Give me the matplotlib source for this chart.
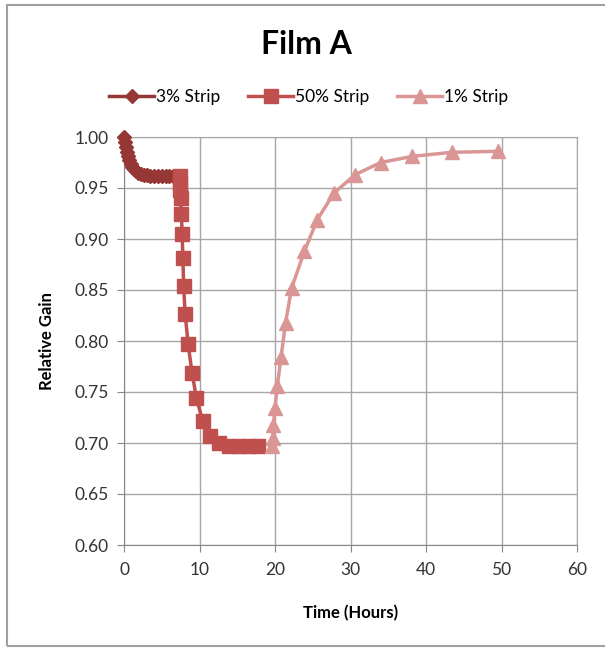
import matplotlib.pyplot as plt
from matplotlib.patches import Rectangle

plt.rcParams['font.family'] = ['Lato', 'DejaVu Sans']

# 3% strip
x_3 = [0, 0.1, 0.2, 0.35, 0.5, 0.7, 0.9, 1.1, 1.3, 1.6, 1.9, 2.2, 2.6, 3.0, 3.5, 4.0, 4.5, 5.0, 5.5, 6.0, 6.5, 7.0, 7.3]
y_3 = [1.000, 0.995, 0.990, 0.985, 0.981, 0.977, 0.974, 0.971, 0.969, 0.967, 0.965, 0.964, 0.963, 0.963, 0.962, 0.962, 0.962, 0.962, 0.962, 0.962, 0.962, 0.962, 0.962]

# 50% strip
x_50 = [7.4, 7.4, 7.45, 7.5, 7.6, 7.7, 7.8, 7.9, 8.1, 8.5, 9.0, 9.6, 10.4, 11.4, 12.6, 13.9, 15.2, 16.5, 17.8]
y_50 = [0.962, 0.955, 0.948, 0.940, 0.925, 0.905, 0.881, 0.854, 0.826, 0.797, 0.769, 0.744, 0.722, 0.707, 0.700, 0.697, 0.697, 0.697, 0.697]

# 1% strip
x_1 = [19.6, 19.7, 19.8, 20.0, 20.3, 20.8, 21.4, 22.2, 23.9, 25.6, 27.8, 30.6, 34.0, 38.2, 43.4, 49.6]
y_1 = [0.697, 0.705, 0.718, 0.734, 0.756, 0.784, 0.818, 0.852, 0.888, 0.919, 0.945, 0.963, 0.975, 0.981, 0.985, 0.986]

fig = plt.figure(figsize=(6.05, 6.48), dpi=100)
ax = fig.add_axes([124/605, 1-545/648, (577-124)/605, (545-137)/648])

ax.plot(x_3, y_3, color='#953735', marker='D', markersize=7, linewidth=2.5, label='3% Strip', zorder=3, clip_on=False)
ax.plot(x_50, y_50, color='#C0504D', marker='s', markersize=10.5, linewidth=2.5, label='50% Strip', zorder=4)
ax.plot(x_1, y_1, color='#D99694', marker='^', markersize=10, linewidth=2.5, label='1% Strip', zorder=5)

ax.set_xlim(0, 60)
ax.set_ylim(0.6, 1.0)
ax.set_xticks(range(0, 61, 10))
ax.set_yticks([0.6 + 0.05*i for i in range(9)])
ax.set_yticklabels(['%.2f' % (0.6 + 0.05*i) for i in range(9)])
ax.grid(True, color='#A6A6A6', linewidth=1)
ax.set_axisbelow(True)
for s in ax.spines.values():
    s.set_color('#A6A6A6')
ax.spines['left'].set_color('#868686')
ax.spines['bottom'].set_color('#868686')
ax.tick_params(colors='#868686', labelcolor='#333333', labelsize=12.5, length=5)
ax.tick_params(axis='x', pad=7)
ax.tick_params(axis='y', pad=6)

ax.set_xlabel('Time (Hours)', fontsize=12, fontweight='bold', labelpad=20)
ax.set_ylabel('Relative Gain', fontsize=12, fontweight='bold', labelpad=14)

fig.text(0.507, 1-45/648, 'Film A', ha='center', va='center', fontsize=23, fontweight='bold')
fig.legend(loc='center', bbox_to_anchor=(0.51, 1-97/648), ncol=3, frameon=False,
           fontsize=12.5, handlelength=2.6, columnspacing=1.6, handletextpad=0.1)

fig.patches.append(Rectangle((7/605, 2/648), 1, 1-7/648, transform=fig.transFigure,
                             fill=False, edgecolor='#A0A0A0', linewidth=1.5))

fig.savefig('out.png', dpi=100)
